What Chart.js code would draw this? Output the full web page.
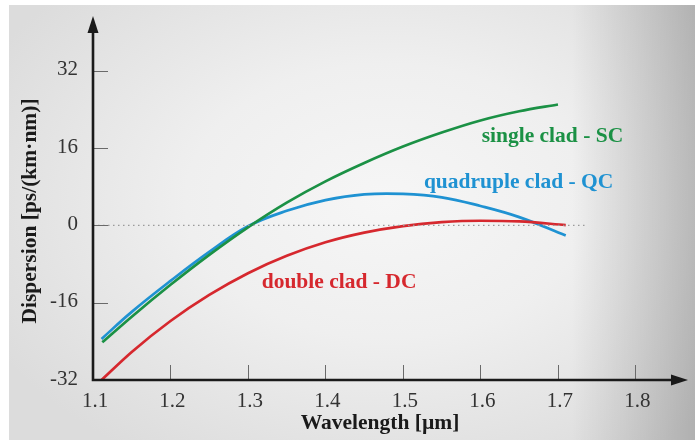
<!DOCTYPE html>
<html>
<head>
<meta charset="utf-8">
<script src="https://cdn.jsdelivr.net/npm/chart.js@4.4.1/dist/chart.umd.min.js"></script>
<style>
  html, body { margin: 0; padding: 0; background: #fff; }
  #frame {
    position: absolute; left: 9px; top: 5px; width: 686px; height: 435px;
    background:
      linear-gradient(to right, rgba(0,0,0,0) 82%, rgba(0,0,0,0.2) 100%),
      radial-gradient(ellipse 65% 70% at 55% 45%, #f6f6f6 0%, #efefef 45%, #dcdcdc 100%);
  }
  #box { position: absolute; left: 0; top: 0; width: 695px; height: 443px; }
</style>
</head>
<body>
<div id="frame"></div>
<div id="box"><canvas id="chart" width="695" height="443"></canvas></div>
<script>
const xTicks = [1.1, 1.2, 1.3, 1.4, 1.5, 1.6, 1.7, 1.8];
const yTicks = [-32, -16, 0, 16, 32];

// single clad
const scWave = [1.112, 1.15, 1.2, 1.25, 1.3, 1.35, 1.4, 1.45, 1.5, 1.55, 1.6, 1.65, 1.7];
const scDisp = [-24.2, -18.9, -12.3, -6.1, -0.4, 4.7, 9.1, 12.9, 16.3, 19.2, 21.7, 23.6, 25.0];

// quadruple clad
const qcWave = [1.111, 1.15, 1.2, 1.25, 1.3, 1.35, 1.4, 1.45, 1.5, 1.55, 1.6, 1.65, 1.71];
const qcDisp = [-23.5, -17.9, -11.5, -5.5, -0.2, 3.0, 5.2, 6.4, 6.5, 5.8, 4.0, 1.7, -2.1];

// double clad
const dcWave = [1.111, 1.15, 1.2, 1.25, 1.3, 1.35, 1.4, 1.45, 1.5, 1.55, 1.6, 1.65, 1.71];
const dcDisp = [-32, -26.2, -19.8, -14.4, -9.9, -6.3, -3.5, -1.5, -0.15, 0.65, 0.95, 0.8, 0.05];

// zero reference line
const zeroWave = [1.1, 1.735];
const zeroDisp = [0, 0];

const GREEN = '#1b9145';
const BLUE = '#1f92d2';
const RED = '#d6282e';
const SERIF = "'Liberation Serif', 'Times New Roman', serif";

const curveLabels = [
  { text: 'single clad - SC', color: GREEN, x: 1.6015, y: 17.3 },
  { text: 'quadruple clad - QC', color: BLUE, x: 1.527, y: 7.8 },
  { text: 'double clad - DC', color: RED, x: 1.3177, y: -13.0 }
];

const toPoints = (xs, ys) => xs.map((x, i) => ({ x, y: ys[i] }));

// monotone keeps the rising curves clean; the QC hump needs a plain spline
function curve(xs, ys, color, monotone) {
  return {
    data: toPoints(xs, ys),
    borderColor: color,
    borderWidth: 2.7,
    pointRadius: 0,
    tension: 0.4,
    cubicInterpolationMode: monotone ? 'monotone' : 'default',
    showLine: true,
    clip: false
  };
}

const axesPlugin = {
  id: 'axes',
  afterDatasetsDraw(chart) {
    const { ctx, chartArea: a, scales: { x, y } } = chart;
    const x0 = x.getPixelForValue(1.1);
    const y0 = y.getPixelForValue(-32);
    ctx.save();

    // tick marks
    ctx.strokeStyle = '#6a6a6a';
    ctx.lineWidth = 1;
    ctx.beginPath();
    yTicks.forEach(v => {
      if (v === -32) return;
      const py = Math.round(y.getPixelForValue(v)) + 0.5;
      ctx.moveTo(x0, py); ctx.lineTo(x0 + 15, py);
    });
    xTicks.forEach(v => {
      if (v === 1.1) return;
      const px = Math.round(x.getPixelForValue(v)) + 0.5;
      ctx.moveTo(px, y0); ctx.lineTo(px, y0 - 15);
    });
    ctx.stroke();

    // axes with arrowheads
    ctx.strokeStyle = '#1a1a1a';
    ctx.fillStyle = '#1a1a1a';
    ctx.lineWidth = 2.6;
    ctx.beginPath();
    ctx.moveTo(x0, y0); ctx.lineTo(x0, a.top + 12);
    ctx.moveTo(x0 - 1.3, y0); ctx.lineTo(a.right - 12, y0);
    ctx.stroke();
    ctx.beginPath();
    ctx.moveTo(x0, a.top - 1); ctx.lineTo(x0 - 5.5, a.top + 16); ctx.lineTo(x0 + 5.5, a.top + 16);
    ctx.closePath(); ctx.fill();
    ctx.beginPath();
    ctx.moveTo(a.right + 1, y0); ctx.lineTo(a.right - 16, y0 - 5.5); ctx.lineTo(a.right - 16, y0 + 5.5);
    ctx.closePath(); ctx.fill();

    // tick labels
    ctx.fillStyle = '#333';
    ctx.font = `21px ${SERIF}`;
    ctx.textAlign = 'right';
    ctx.textBaseline = 'middle';
    yTicks.forEach(v => ctx.fillText(String(v), 78, y.getPixelForValue(v) - 1));
    ctx.textAlign = 'center';
    xTicks.forEach(v => ctx.fillText(v.toFixed(1), x.getPixelForValue(v) + 2, y0 + 21));

    // axis titles
    ctx.fillStyle = '#1a1a1a';
    ctx.font = `bold 21.5px ${SERIF}`;
    ctx.fillText('Wavelength [\u00b5m]', 380, y0 + 43);
    ctx.save();
    ctx.translate(30, 211);
    ctx.rotate(-Math.PI / 2);
    ctx.fillText('Dispersion [ps/(km\u00b7nm)]', 0, 0);
    ctx.restore();

    // curve names
    ctx.textAlign = 'left';
    ctx.textBaseline = 'alphabetic';
    curveLabels.forEach(l => {
      ctx.fillStyle = l.color;
      ctx.fillText(l.text, x.getPixelForValue(l.x), y.getPixelForValue(l.y));
    });
    ctx.restore();
  }
};

new Chart(document.getElementById('chart'), {
  type: 'scatter',
  data: {
    datasets: [
      {
        data: toPoints(zeroWave, zeroDisp),
        borderColor: '#9a9a9a',
        borderWidth: 1.2,
        borderDash: [1.5, 3.5],
        pointRadius: 0,
        showLine: true
      },
      curve(dcWave, dcDisp, RED, true),
      curve(scWave, scDisp, GREEN, true),
      curve(qcWave, qcDisp, BLUE, false)
    ]
  },
  options: {
    responsive: false,
    animation: false,
    layout: { padding: { left: 93, right: 8, top: 17, bottom: 63 } },
    plugins: { legend: { display: false }, tooltip: { enabled: false } },
    scales: {
      x: { type: 'linear', min: 1.1, max: 1.8665, display: false },
      y: { type: 'linear', min: -32, max: 43.1, display: false }
    }
  },
  plugins: [axesPlugin]
});
</script>
</body>
</html>
